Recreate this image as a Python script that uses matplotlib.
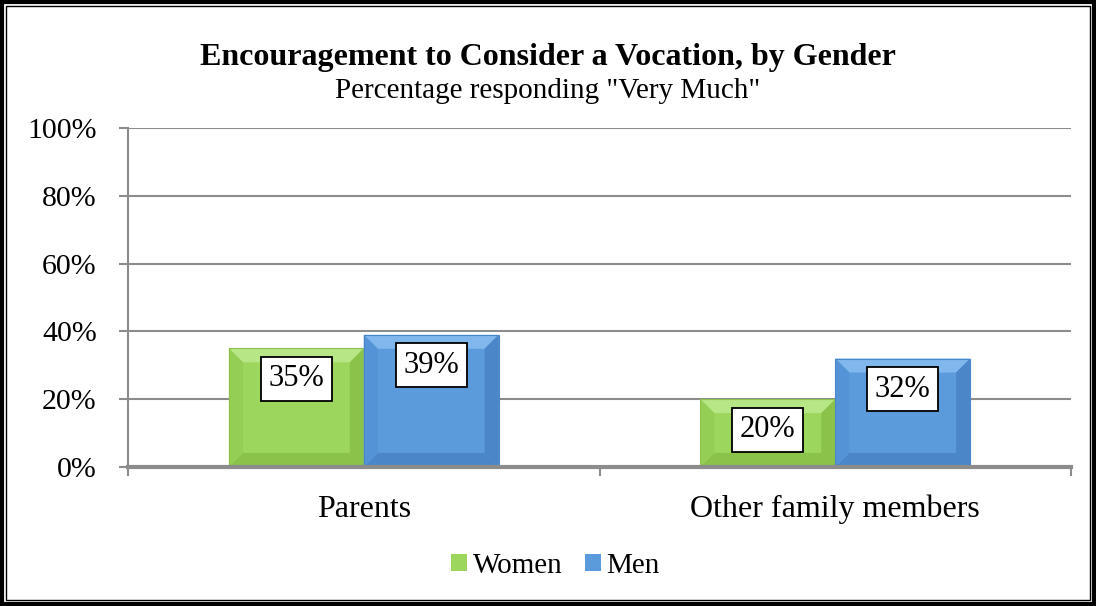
import matplotlib
matplotlib.use("Agg")
import matplotlib.pyplot as plt
from matplotlib.patches import Polygon, Rectangle
from matplotlib.transforms import IdentityTransform
import numpy as np

plt.rcParams['font.family'] = ['Liberation Serif', 'DejaVu Serif']

categories = ["Parents", "Other family members"]
series = ["Women", "Men"]
women = [35, 20]
men = [39, 32]
yticks = [0, 20, 40, 60, 80, 100]

colors = {"Women": "#9DD65C", "Men": "#5B9BDC"}
light = {"Women": "#B6E685", "Men": "#80B8EE"}
dark = {"Women": "#8AC24A", "Men": "#4B87C8"}
side = {"Women": "#95CE54", "Men": "#5494D6"}

fig = plt.figure(figsize=(10.96, 6.06), dpi=100)
ax = fig.add_axes([0.1168, 0.2294, 0.8604, 0.5594])

x = np.arange(len(categories))
w = 0.286
bars_w = ax.bar(x - w / 2, women, w, color=colors["Women"], zorder=2, label="Women")
bars_m = ax.bar(x + w / 2, men, w, color=colors["Men"], zorder=2, label="Men")

ax.set_xlim(-0.5, 1.5)
ax.set_ylim(0, 100)
ax.set_yticks(yticks)
ax.set_yticklabels([f"{v}%" for v in yticks], fontsize=21.5)
ax.set_xticks(x)
ax.set_xticklabels(categories, fontsize=23)
ax.tick_params(axis='x', length=0, pad=20)
ax.tick_params(axis='y', length=6.5, width=1.5, color="#8C8C8C", pad=16)
ax.set_xticks([-0.5, 0.5, 1.5], minor=True)
ax.tick_params(axis='x', which='minor', length=6.5, width=1.5, color="#8C8C8C")
ax.grid(axis='y', color="#8C8C8C", linewidth=1.5, zorder=0)
for s in ["top", "right"]:
    ax.spines[s].set_visible(False)
ax.spines["left"].set_color("#8C8C8C")
ax.spines["left"].set_linewidth(1.5)
ax.spines["bottom"].set_color("#8C8C8C")
ax.spines["bottom"].set_linewidth(3)
ax.spines["bottom"].set_zorder(4)


def bevel(bars, name, b=14):
    # bevelled faces drawn in pixel space over each bar
    for r in bars:
        x0, y0 = ax.transData.transform((r.get_x(), 0))
        x1, y1 = ax.transData.transform((r.get_x() + r.get_width(), r.get_height()))
        bb = min(b, (y1 - y0) / 2.5)
        ix0, ix1, iy0, iy1 = x0 + bb, x1 - bb, y0 + bb, y1 - bb
        faces = [
            ([(x0, y1), (x1, y1), (ix1, iy1), (ix0, iy1)], light[name]),
            ([(x0, y0), (x1, y0), (ix1, iy0), (ix0, iy0)], dark[name]),
            ([(x0, y0), (x0, y1), (ix0, iy1), (ix0, iy0)], side[name]),
            ([(x1, y0), (x1, y1), (ix1, iy1), (ix1, iy0)], dark[name]),
        ]
        for pts, c in faces:
            ax.add_patch(Polygon(pts, closed=True, facecolor=c, edgecolor='none',
                                 transform=IdentityTransform(), zorder=3))
        ax.add_patch(Rectangle((x0, y0), x1 - x0, y1 - y0, facecolor='none',
                               edgecolor=dark[name], linewidth=0.8,
                               transform=IdentityTransform(), zorder=3))


bevel(bars_w, "Women")
bevel(bars_m, "Men")

for bars, vals in [(bars_w, women), (bars_m, men)]:
    for r, v in zip(bars, vals):
        ax.annotate(f"{v}%", (r.get_x() + r.get_width() / 2, v),
                    xytext=(0, -22), textcoords="offset points",
                    ha="center", va="center", fontsize=22, zorder=5,
                    bbox=dict(boxstyle="square,pad=0.25", fc="white", ec="black", lw=1.3))

fig.text(0.5, 0.8927, "Encouragement to Consider a Vocation, by Gender",
         ha="center", va="baseline", fontsize=23, fontweight="bold")
fig.text(0.5, 0.8383, 'Percentage responding "Very Much"',
         ha="center", va="baseline", fontsize=21)

leg = fig.legend(handles=[bars_w, bars_m], labels=series, loc="center",
                 bbox_to_anchor=(0.507, 0.066), ncol=2, frameon=False,
                 fontsize=21, handlelength=0.55, handleheight=0.55,
                 handletextpad=0.2, columnspacing=0.75)

# double frame around the whole chart
fig.add_artist(Rectangle((0.0015, 0.0025), 0.997, 0.995, transform=fig.transFigure,
                         fill=False, ec="black", lw=3))
fig.add_artist(Rectangle((0.0055, 0.0095), 0.989, 0.981, transform=fig.transFigure,
                         fill=False, ec="black", lw=1))

fig.savefig("out.png", dpi=100)
